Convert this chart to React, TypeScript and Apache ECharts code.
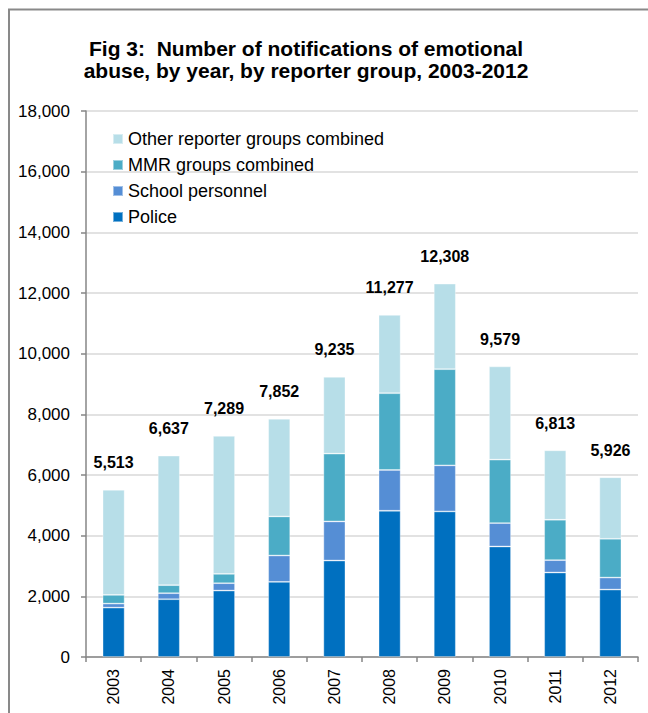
import React, { useEffect, useRef } from "react";
import * as echarts from "echarts";

const years = ["2003", "2004", "2005", "2006", "2007", "2008", "2009", "2010", "2011", "2012"];
const totals = [5513, 6637, 7289, 7852, 9235, 11277, 12308, 9579, 6813, 5926];
const police = [1628, 1905, 2190, 2477, 3180, 4822, 4799, 3643, 2785, 2223];
const school = [132, 199, 243, 869, 1289, 1343, 1519, 772, 408, 396];
const mmr = [288, 264, 308, 1288, 2235, 2531, 3170, 2091, 1331, 1278];
const other = totals.map((t, i) => t - police[i] - school[i] - mmr[i]);

const seriesNames = ["Police", "School personnel", "MMR groups combined", "Other reporter groups combined"];
const legendOrder = ["Other reporter groups combined", "MMR groups combined", "School personnel", "Police"];
const colors = ["#0070C0", "#558ED5", "#4BACC6", "#B7DEE8"];

const FONT = "'Liberation Sans', Arial, sans-serif";
const fmt = (v: number) => v.toLocaleString("en-US");

export default function App() {
  const ref = useRef<HTMLDivElement>(null);
  useEffect(() => {
    if (!ref.current) return;
    const chart = echarts.init(ref.current, null, { renderer: "svg" });
    const data = [police, school, mmr, other];
    chart.setOption({
      animation: false,
      backgroundColor: "#fff",
      title: {
        text: "Fig 3:  Number of notifications of emotional\nabuse, by year, by reporter group, 2003-2012",
        left: 306,
        top: 37,
        textAlign: "center",
        padding: 0,
        textStyle: { fontFamily: FONT, fontSize: 21, fontWeight: "bold", color: "#000", lineHeight: 22 },
      },
      graphic: [
        {
          type: "rect",
          shape: { x: 9, y: 9.5, width: 700, height: 800 },
          style: { fill: "none", stroke: "#898989", lineWidth: 2 },
          silent: true,
        },
      ],
      legend: {
        data: legendOrder,
        orient: "vertical",
        left: 112,
        top: 130,
        padding: 0,
        itemWidth: 10,
        itemHeight: 10,
        itemGap: 8,
        icon: "rect",
        textStyle: { fontFamily: FONT, fontSize: 18, color: "#000", lineHeight: 18 },
      },
      grid: { left: 86, right: 10, top: 111, bottom: 56 },
      xAxis: {
        type: "category",
        data: years,
        axisLine: { lineStyle: { color: "#868686", width: 1.5 } },
        axisTick: { show: true, length: 5, lineStyle: { color: "#868686", width: 1.5 } },
        axisLabel: { rotate: 90, margin: 12, fontFamily: FONT, fontSize: 16, color: "#000" },
      },
      yAxis: {
        type: "value",
        min: 0,
        max: 18000,
        interval: 2000,
        axisLine: { show: true, lineStyle: { color: "#868686", width: 1.5 } },
        axisTick: { show: true, length: 5, lineStyle: { color: "#868686", width: 1.5 } },
        splitLine: { lineStyle: { color: "#d9d9d9", width: 1.5 } },
        axisLabel: { margin: 16, fontFamily: FONT, fontSize: 17, color: "#000", formatter: (v: number) => fmt(v) },
      },
      series: seriesNames.map((name, si) => ({
        name,
        type: "bar",
        stack: "total",
        barWidth: 22,
        data: data[si],
        itemStyle: { color: colors[si], borderColor: "rgba(255,255,255,0.45)", borderWidth: 0.8 },
        label:
          si === 3
            ? {
                show: true,
                position: "top",
                distance: 19,
                fontFamily: FONT,
                fontSize: 16,
                fontWeight: "bold",
                color: "#000",
                formatter: (p: any) => fmt(totals[p.dataIndex]),
              }
            : { show: false },
      })),
    });
    return () => chart.dispose();
  }, []);
  return <div ref={ref} style={{ position: "absolute", left: 0, top: 0, width: 648, height: 713 }} />;
}
